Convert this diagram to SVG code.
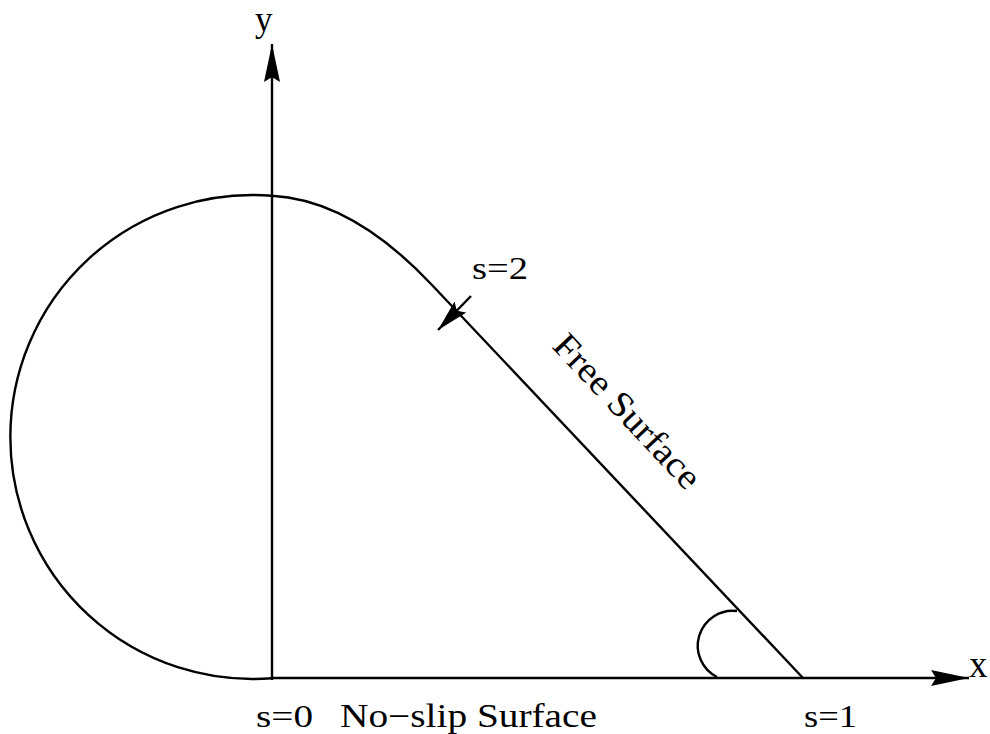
<svg xmlns="http://www.w3.org/2000/svg" width="990" height="734" viewBox="0 0 990 734">
<defs>
<style>
.ln{fill:none;stroke:#000;stroke-width:2.4}
.t{font-family:"Liberation Serif","Times New Roman",serif;fill:#000}
</style>
<marker id="ah" markerWidth="40" markerHeight="20" refX="38" refY="8" orient="auto" markerUnits="userSpaceOnUse">
<path d="M0,0 L38,8 L0,16 L5,8 Z" fill="#000"/>
</marker>
<marker id="ah2" markerWidth="36" markerHeight="18" refX="32" refY="8" orient="auto" markerUnits="userSpaceOnUse">
<path d="M0,0 L32,8 L0,16 L5,8 Z" fill="#000"/>
</marker>
</defs>
<rect width="990" height="734" fill="#fff"/>
<g id="connectors">
<line id="y-axis" class="ln" x1="272" y1="680" x2="272" y2="44" marker-end="url(#ah)"/>
<line id="x-axis" class="ln" x1="272" y1="678" x2="969" y2="678" marker-end="url(#ah)"/>
<path id="s2-arrow" class="ln" d="M471,296 L438,330" marker-end="url(#ah2)"/>
</g>
<g id="boundary">
<path class="ln" d="M272,678.2 A242,242 0 1 1 272,195.8 C330,199 385,235 432,285 L803,678"/>
</g>
<g id="angle">
<path class="ln" d="M737,611 A35,35 0 0 0 717,677"/>
</g>
<g id="labels">
<text class="t" x="255" y="31" font-size="35">y</text>
<text class="t" x="969" y="677" font-size="37">x</text>
<text class="t" x="472" y="279" font-size="32" textLength="56" lengthAdjust="spacingAndGlyphs">s=2</text>
<text class="t" x="256" y="727" font-size="32" textLength="57" lengthAdjust="spacingAndGlyphs">s=0</text>
<text class="t" x="340" y="727" font-size="33" textLength="257" lengthAdjust="spacingAndGlyphs">No−slip Surface</text>
<text class="t" x="804" y="727" font-size="32" textLength="53" lengthAdjust="spacingAndGlyphs">s=1</text>
<text class="t" font-size="36" textLength="198" lengthAdjust="spacingAndGlyphs" transform="translate(551,347) rotate(46.9)">Free Surface</text>
</g>
</svg>
